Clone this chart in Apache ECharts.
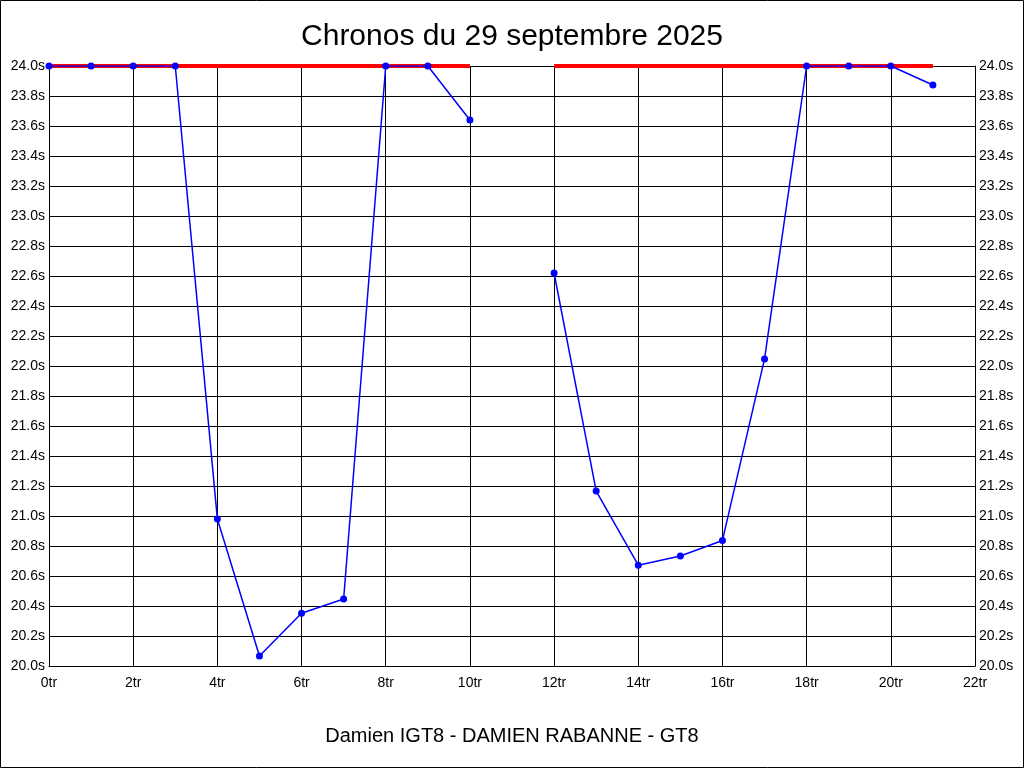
<!DOCTYPE html>
<html><head><meta charset="utf-8">
<script src="https://cdn.jsdelivr.net/npm/echarts@6/dist/echarts.min.js"></script>
<style>html,body{margin:0;padding:0;background:#fff}#c{width:1024px;height:768px}</style>
</head><body><div id="c"></div>
<script>
const laps = [0,1,2,3,4,5,6,7,8,9,10,11,12,13,14,15,16,17,18,19,20,21];
const chronos = [24.0,24.0,24.0,24.0,20.98,20.067,20.352,20.447,24.0,24.0,23.64,null,22.62,21.166,20.672,20.733,20.837,22.047,24.0,24.0,24.0,23.873];
const limit = [24.0,24.0,24.0,24.0,24.0,24.0,24.0,24.0,24.0,24.0,24.0,null,24.0,24.0,24.0,24.0,24.0,24.0,24.0,24.0,24.0,24.0];
const titleText = 'Chronos du 29 septembre 2025';
const subtitleText = 'Damien IGT8 - DAMIEN RABANNE - GT8';

const chart = echarts.init(document.getElementById('c'), null, {renderer:'canvas'});
const font = 'Liberation Sans, Arial, sans-serif';
const yAxisBase = {
  type:'value', min:20, max:24, interval:0.2,
  axisLine:{show:true, lineStyle:{color:'#000', width:1}},
  axisTick:{show:false},
  splitLine:{show:true, lineStyle:{color:'#000', width:1}},
  axisLabel:{color:'#000', fontFamily:font, fontSize:14, margin:4,
    formatter:v=>v.toFixed(1)+'s'}
};
chart.setOption({
  animation:false,
  backgroundColor:'#fff',
  title:[
    {text:titleText, left:'center', top:17, textStyle:{fontFamily:font, fontSize:30, fontWeight:'normal', color:'#000'}},
    {text:subtitleText, left:'center', top:721, textStyle:{fontFamily:font, fontSize:20, fontWeight:'normal', color:'#000'}}
  ],
  graphic:[{type:'rect', shape:{x:0.5,y:0.5,width:1023,height:767}, style:{fill:null, stroke:'#000', lineWidth:1}, silent:true}],
  grid:{left:49, right:49, top:66, bottom:102, containLabel:false},
  xAxis:{type:'value', min:0, max:22, interval:2,
    axisLine:{show:true, onZero:false, lineStyle:{color:'#000'}},
    axisTick:{show:false},
    splitLine:{show:true, lineStyle:{color:'#000', width:1}},
    axisLabel:{color:'#000', fontFamily:font, fontSize:14, margin:10, formatter:'{value}tr'}},
  yAxis:[Object.assign({}, yAxisBase, {position:'left'}),
         Object.assign({}, yAxisBase, {position:'right', splitLine:{show:false}})],
  series:[
    {type:'line', data:laps.map((x,i)=>[x,limit[i]]), showSymbol:false, connectNulls:false,
      lineStyle:{color:'#ff0000', width:4}, itemStyle:{color:'#ff0000'}, z:2},
    {type:'line', data:laps.map((x,i)=>[x,chronos[i]]), connectNulls:false,
      symbol:'circle', symbolSize:7, showAllSymbol:true,
      lineStyle:{color:'#0000ff', width:1.5}, itemStyle:{color:'#0000ff'}, z:3}
  ]
});
</script></body></html>
